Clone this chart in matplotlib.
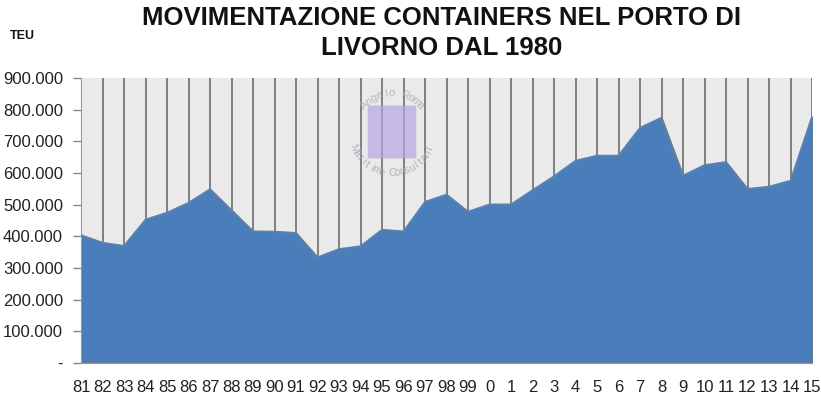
import numpy as np
import matplotlib.pyplot as plt
from matplotlib.ticker import FuncFormatter
from matplotlib.patches import FancyBboxPatch

# Movimentazione containers, porto di Livorno (TEU)
anni = ["81", "82", "83", "84", "85", "86", "87", "88", "89", "90", "91", "92",
        "93", "94", "95", "96", "97", "98", "99", "0", "1", "2", "3", "4", "5",
        "6", "7", "8", "9", "10", "11", "12", "13", "14", "15"]
teu = [404000, 380000, 370000, 453000, 475000, 506000, 549000, 483000, 416000,
       415000, 411000, 334000, 360000, 369000, 421000, 416000, 509000, 532000,
       478000, 501000, 501000, 546000, 590000, 639000, 655000, 655000, 743000,
       775000, 592000, 625000, 635000, 550000, 557000, 576000, 778000]

plt.rcParams['font.family'] = ['Liberation Sans', 'DejaVu Sans']

W, H = 821, 395
fig = plt.figure(figsize=(W / 100, H / 100), dpi=100)
ax = fig.add_axes([81 / W, 1 - 363 / H, (812 - 81) / W, (363 - 78) / H])

x = np.arange(len(anni))
ax.set_facecolor("#EAEAEA")
for xi in x:
    ax.axvline(xi, color="#6E6E6E", lw=1.2, zorder=1)
ax.fill_between(x, teu, 0, color="#4A7EBB", zorder=2)
ax.plot(x, teu, color="#6A7F99", lw=1.2, zorder=3)

ax.set_xlim(0, len(anni) - 1)
ax.set_ylim(0, 900000)
ax.set_yticks(np.arange(0, 900001, 100000))
ax.yaxis.set_major_formatter(FuncFormatter(
    lambda v, p: "-" if v == 0 else f"{int(v):,}".replace(",", ".")))
ax.set_xticks(x)
ax.set_xticklabels(anni)
ax.tick_params(axis="y", length=6, width=1, color="#888888", labelsize=12,
               pad=7, labelcolor="#222222")
ax.tick_params(axis="x", length=0, labelsize=12, pad=12, labelcolor="#222222")
for s in ["top", "right"]:
    ax.spines[s].set_visible(False)
ax.spines["left"].set_color("#999999")
ax.spines["bottom"].set_color("#999999")

# filigrana "Angelo Roma - Maritime Consultant"
cx, cy = 392, 131
logo = FancyBboxPatch(((cx - 21) / W, 1 - (cy + 26) / H), 42 / W, 50 / H,
                      boxstyle="round,pad=0.004", transform=fig.transFigure,
                      facecolor="#B4A6E2", edgecolor="none", alpha=0.7, zorder=5)
fig.patches.append(logo)


def testo_ad_arco(testo, r, a0, a1, sopra=True):
    angoli = np.linspace(a0, a1, len(testo))
    for ch, a in zip(testo, angoli):
        px = cx + r * np.cos(np.radians(a))
        py = cy - r * np.sin(np.radians(a))
        rot = a - 90 if sopra else a + 90
        fig.text(px / W, 1 - py / H, ch, ha="center", va="center",
                 rotation=rot, fontsize=8, color="#A8A8B8", alpha=0.8)


testo_ad_arco("Angelo Roma", 38, 138, 42, sopra=True)
testo_ad_arco("Maritime Consultant", 42, 205, 335, sopra=False)

fig.text(0.538, 0.955, "MOVIMENTAZIONE CONTAINERS NEL PORTO DI", ha="center",
         va="center", fontsize=18.5, fontweight="bold", color="#111111")
fig.text(0.538, 0.878, "LIVORNO DAL 1980", ha="center", va="center",
         fontsize=18.5, fontweight="bold", color="#111111")
fig.text(22 / W, 1 - 36 / H, "TEU", ha="center", va="center",
         fontsize=9, fontweight="bold", color="#111111")

fig.savefig("out.png", dpi=100)
